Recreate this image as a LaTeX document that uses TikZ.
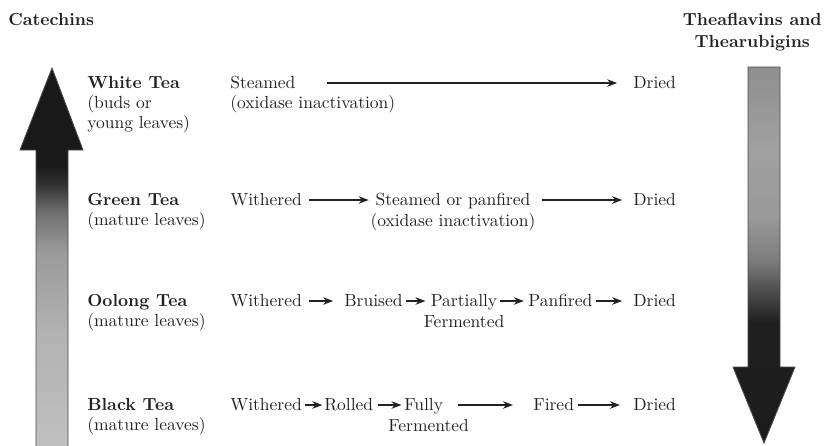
\documentclass[tikz,border=0pt]{standalone}
\usepackage{xcolor}
\usepackage{tikz}
\usetikzlibrary{arrows.meta,positioning}
\definecolor{inkc}{HTML}{222222}
\definecolor{edgec}{HTML}{4A4A4A}
\pgfdeclareverticalshading{upfade}{100bp}{color(0bp)=(black!25); color(25bp)=(black!25); color(40bp)=(black!30); color(51bp)=(black!40); color(56bp)=(black!57); color(59.5bp)=(black!80); color(62bp)=(black!90); color(100bp)=(black!90)}
\pgfdeclareverticalshading{downfade}{100bp}{color(0bp)=(black!89); color(25bp)=(black!89); color(41bp)=(black!88); color(45bp)=(black!71); color(49bp)=(black!52); color(55bp)=(black!40); color(64bp)=(black!37); color(75bp)=(black!44); color(100bp)=(black!44)}
\tikzset{
  ttl/.style={font=\fontsize{10.5pt}{12pt}\selectfont\bfseries,inner sep=0pt,text=inkc},
  lbl/.style={anchor=base west,inner sep=0pt,align=left,text=inkc},
  stage/.style={anchor=base west,inner sep=0pt,text=inkc},
  flow/.style={-{Stealth[length=6pt,width=4.5pt]},line width=0.8pt,inkc,shorten <=2pt,shorten >=3pt}
}

\begin{document}
\begin{tikzpicture}[x=0.6pt,y=-0.6pt,font=\fontsize{10.5pt}{12pt}\selectfont]
\useasboundingbox (0,0) rectangle (825,445);
% big gradient arrows
\shadedraw[shading=upfade,draw=edgec,line width=0.5pt] (36,446)--(36,150)--(20,150)--(52,68)--(83,150)--(68,150)--(68,446);
\shadedraw[shading=downfade,draw=edgec,line width=0.5pt] (748,67)--(780,67)--(780,367)--(795,367)--(764,443)--(733,367)--(748,367)--cycle;
\node[ttl,anchor=base west] (catech) at (8,25) {Catechins};
% base of a multi-line node is its last line
\node[ttl,anchor=base east,align=center] (theaf) at (822,47) {Theaflavins and\\[1pt]Thearubigins};
% tea kinds
\node[lbl] (white) at (87,128) {\textbf{White Tea}\\(buds or\\young leaves)};
\node[lbl] (green) at (87,225) {\textbf{Green Tea}\\(mature leaves)};
\node[lbl] (oolong) at (87,326) {\textbf{Oolong Tea}\\(mature leaves)};
\node[lbl] (black) at (87,430) {\textbf{Black Tea}\\(mature leaves)};
% white tea
\node[stage] (steamA) at (230,88) {Steamed};
\node[stage] (inactA) at ([yshift=-12pt]steamA.base west) {(oxidase inactivation)};
\node[stage] (driedA) at (633,88) {Dried};
\draw[flow,shorten <=19pt,shorten >=9.5pt] ([yshift=3pt]steamA.base east)--([yshift=3pt]driedA.base west);
% green tea
\node[stage] (witherB) at (230,205) {Withered};
\node[stage,anchor=base] (steamB) at (453,205) {Steamed or panfired};
\node[stage,anchor=base] (inactB) at ([yshift=-13pt]steamB.base) {(oxidase inactivation)};
\node[stage] (driedB) at (633,205) {Dried};
\draw[flow,shorten <=4pt,shorten >=4pt] ([yshift=3pt]witherB.base east)--([yshift=3pt]steamB.base west);
\draw[flow,shorten <=7pt,shorten >=6.5pt] ([yshift=3pt]steamB.base east)--([yshift=3pt]driedB.base west);
% oolong tea
\node[stage] (witherC) at (230,306) {Withered};
\node[stage] (bruisC) at (344,306) {Bruised};
\node[stage,anchor=base] (partC) at (464,306) {Partially};
\node[stage,anchor=base] (fermC) at ([yshift=-13pt]partC.base) {Fermented};
\node[stage] (panC) at (528,306) {Panfired};
\node[stage] (driedC) at (633,306) {Dried};
\draw[flow,shorten <=4pt,shorten >=6.5pt] ([yshift=3pt]witherC.base east)--([yshift=3pt]bruisC.base west);
\draw[flow] ([yshift=3pt]bruisC.base east)--([yshift=3pt]partC.base west);
\draw[flow,shorten <=1.2pt,shorten >=2.5pt] ([yshift=3pt]partC.base east)--([yshift=3pt]panC.base west);
\draw[flow,shorten <=2pt,shorten >=6.5pt] ([yshift=3pt]panC.base east)--([yshift=3pt]driedC.base west);
% black tea
\node[stage] (witherD) at (230,410) {Withered};
\node[stage] (rollD) at (324,410) {Rolled};
\node[stage] (fullyD) at (404,410) {Fully};
\node[stage,anchor=base] (fermD) at ([xshift=3pt,yshift=-13pt]fullyD.base) {Fermented};
\node[stage] (fireD) at (533,410) {Fired};
\node[stage] (driedD) at (633,410) {Dried};
\draw[flow,shorten <=1.5pt,shorten >=1pt] ([yshift=3pt]witherD.base east)--([yshift=3pt]rollD.base west);
\draw[flow,shorten <=2.5pt,shorten >=1.5pt] ([yshift=3pt]rollD.base east)--([yshift=3pt]fullyD.base west);
\draw[flow,shorten <=9pt,shorten >=12pt] ([yshift=3pt]fullyD.base east)--([yshift=3pt]fireD.base west);
\draw[flow,shorten <=2pt,shorten >=7.8pt] ([yshift=3pt]fireD.base east)--([yshift=3pt]driedD.base west);
\end{tikzpicture}
\end{document}
